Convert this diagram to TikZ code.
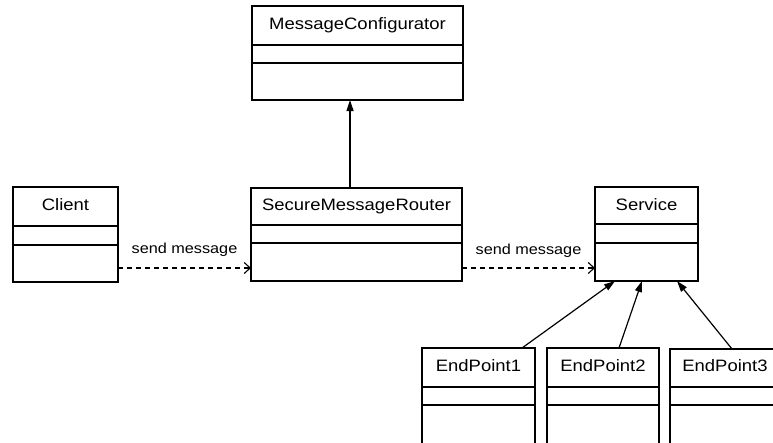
\documentclass[tikz,border=0pt]{standalone}
\usepackage{fontspec}
\setmainfont{Liberation Sans}[FakeStretch=1.12]
\usetikzlibrary{arrows.meta,calc,fit}

\tikzset{
  box/.style={draw, line width=1.4pt, inner sep=0pt, outer sep=0pt, rectangle},
  rule/.style={line width=1.4pt},
  title/.style={font=\fontsize{16.5}{18}\selectfont, inner sep=0pt},
  msg/.style={font=\fontsize{14.5}{16}\selectfont, inner sep=0pt},
  dep/.style={line width=1.1pt, dash pattern=on 5pt off 4pt,
    -{Straight Barb[length=6pt,width=11pt,line width=1.1pt]}},
  gen/.style={line width=1.2pt, -{Triangle[length=11pt,width=7pt]}}
}

% class box: name, x1, y1, x2, y2, first divider y, second divider y
\newcommand\umlclass[7]{%
  \node[box, fit={(#2,#3) (#4,#5)}] (#1) {};
  \draw[rule] (#1.west |- 0,#6) -- (#1.east |- 0,#6);
  \draw[rule] (#1.west |- 0,#7) -- (#1.east |- 0,#7);
}

\begin{document}
\begin{tikzpicture}[x=1pt, y=-1pt]
  \path[use as bounding box, clip] (0,0) rectangle (773,442);
  \fill[white] (0,0) rectangle (773,442);

  % classes
  \umlclass{mc}{252}{6}{463}{100}{45}{63}
  \node[title] (mc-t) at (mc.north |- 0,25) {MessageConfigurator};

  \umlclass{client}{13}{187}{118}{282}{226}{245}
  \node[title] (client-t) at (client.north |- 0,205) {Client};

  \umlclass{smr}{251}{188}{462}{281}{225}{243}
  \node[title] (smr-t) at (smr.north |- 0,206) {SecureMessageRouter};

  \umlclass{svc}{595}{187}{698}{281}{224}{243}
  \node[title] (svc-t) at (svc.north |- 0,205) {Service};

  \umlclass{ep1}{422}{348}{535}{470}{387}{405}
  \node[title] (ep1-t) at (ep1.north |- 0,366) {EndPoint1};

  \umlclass{ep2}{547}{348}{659}{470}{387}{405}
  \node[title] (ep2-t) at (ep2.north |- 0,366) {EndPoint2};

  \umlclass{ep3}{670}{349}{780}{470}{387}{405}
  \node[title] (ep3-t) at (ep3.north |- 0,366) {EndPoint3};

  % message flow
  \draw[dep] ([yshift=14pt]client.south east) -- ([yshift=13pt]smr.south west);
  \node[msg] (m1) at ([yshift=-15.5pt]$(client.east)!0.5!(smr.west)$) {send message};

  \draw[dep] ([yshift=13pt]smr.south east) -- ([yshift=13pt]svc.south west);
  \node[msg] (m2) at ([yshift=-16pt]$(smr.east)!0.5!(svc.west)$) {send message};

  % generalisations
  \draw[gen] ([xshift=-6.5pt]smr.north) -- ([xshift=-7.5pt]mc.south);
  \draw[gen] ([xshift=-13pt]ep1.north east) -- ([xshift=20pt]svc.south west);
  \draw[gen] ([xshift=16pt]ep2.north) -- ([xshift=47pt]svc.south west);
  \draw[gen] ([xshift=62pt]ep3.north west) -- ([xshift=82pt]svc.south west);
\end{tikzpicture}
\end{document}
